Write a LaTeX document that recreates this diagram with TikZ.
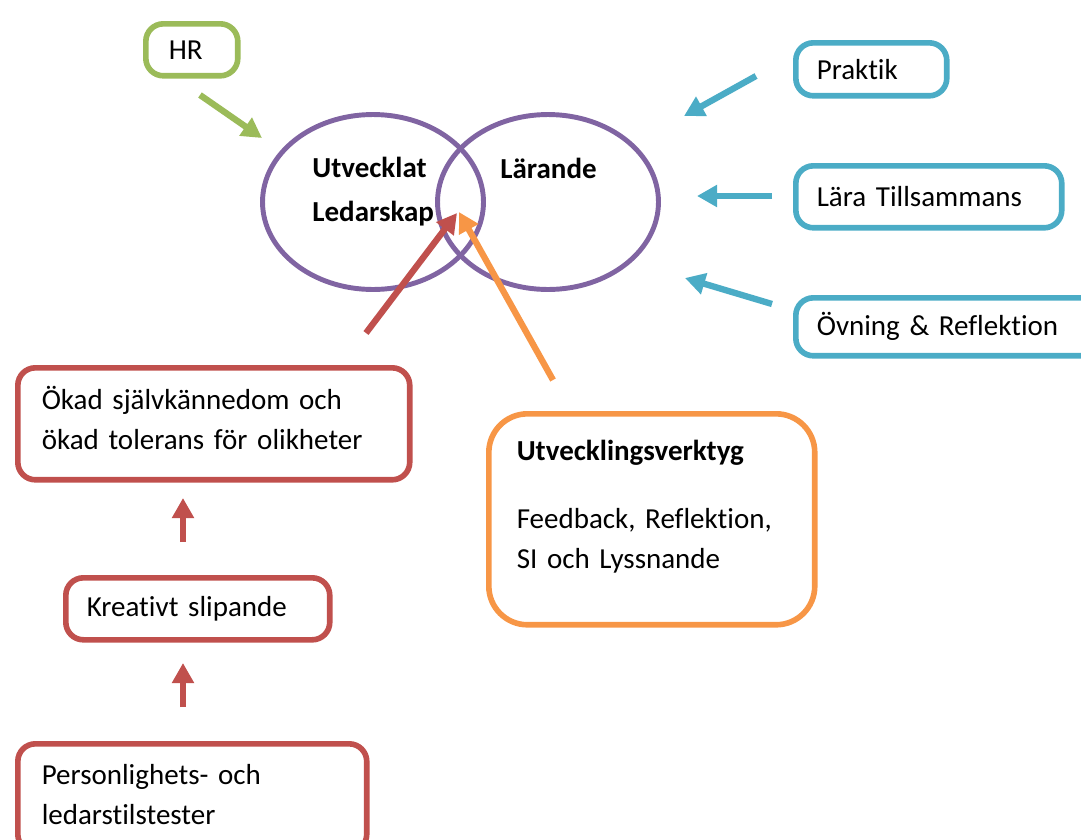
\documentclass[tikz,border=0pt]{standalone}
\usepackage{xcolor}
\usepackage{fontspec}
\setmainfont{Carlito}[Ligatures=NoCommon]
\usetikzlibrary{arrows.meta,shapes.geometric}
\definecolor{hrgreen}{HTML}{9BBB59}
\definecolor{tealblue}{HTML}{4BACC6}
\definecolor{circpurple}{HTML}{8064A2}
\definecolor{brickred}{HTML}{C0504D}
\definecolor{tanorange}{HTML}{F79646}
% extra space under the text of a box, lifts the text
\newcommand{\liftby}[1]{\par\vspace{#1}\hrule height 0pt}

\tikzset{
  box/.style={draw, line width=3.2pt, rounded corners=10pt, anchor=north west,
              align=left, inner xsep=0.42cm, inner ysep=0pt,
              font=\fontsize{16.5}{22.9}\selectfont},
  circ/.style={ellipse, draw=circpurple, line width=2.8pt,
               minimum width=4.42cm, minimum height=3.5cm},
  arr/.style={line width=3.6pt, -{Triangle[length=0.4cm,width=0.42cm]}},
}

\begin{document}
\begin{tikzpicture}[x=0.02cm, y=-0.02cm]
        \useasboundingbox (0,0) rectangle (1081,839);
        \clip (0,0) rectangle (1081,839);

        % the two overlapping circles
        \node[circ] (led) at (373,202) {};
        \node[circ] (lar) at (548,202) {};
        \node[anchor=west, inner sep=0pt, align=left,
              font=\fontsize{16.5}{25}\selectfont\bfseries] (ledtext) at (312,192) {Utvecklat\\Ledarskap};
        \node[anchor=west, inner sep=0pt,
              font=\fontsize{16.5}{25}\selectfont\bfseries] (lartext) at (500,168) {Lärande};

        % boxes
        \node[box, draw=hrgreen, inner xsep=0.46cm, text width=0.92cm, minimum height=1.04cm] (hr) at (143,21) {HR};
        \node[box, draw=tealblue, text width=2.18cm, minimum height=1.06cm] (praktik) at (793,40) {Praktik};
        \node[box, draw=tealblue, text width=4.48cm, minimum height=1.24cm] (tillsammans) at (793,163) {Lära Tillsammans};
        \node[box, draw=tealblue, text width=5.56cm, minimum height=1.16cm] (ovning) at (793,295) {Övning \& Reflektion};
        \node[box, draw=brickred, inner xsep=0.48cm, text width=6.88cm, minimum height=2.24cm] (okad) at (15,365)
            {Ökad självkännedom och\\ökad tolerans för olikheter\liftby{0.24cm}};
        \node[box, draw=brickred, text width=4.44cm, minimum height=1.24cm] (kreativt) at (63,575) {Kreativt slipande};
        \node[box, draw=brickred, inner xsep=0.48cm, text width=6.02cm, minimum height=2.16cm] (tester) at (15,741)
            {Personlighets- och\\ledarstilstester\liftby{0.12cm}};
        \node[box, draw=tanorange, rounded corners=22pt, inner xsep=0.56cm, text width=5.4cm, minimum height=4.22cm] (verktyg) at (486,411)
            {\textbf{Utvecklingsverktyg}\\[16pt]Feedback, Reflektion,\\SI och Lyssnande\liftby{0.5cm}};

        % arrow ends
        \coordinate (hr-start) at (200,95);
        \coordinate (hr-end) at (262,138);
        \coordinate (praktik-start) at (756,76);
        \coordinate (praktik-end) at (684,116);
        \coordinate (tillsammans-start) at (772,196);
        \coordinate (tillsammans-end) at (697,196);
        \coordinate (ovning-start) at (772,304);
        \coordinate (ovning-end) at (685,278);
        \coordinate (okad-start) at (366,333);
        \coordinate (okad-end) at (457,213);
        \coordinate (verktyg-start) at (553,380);
        \coordinate (verktyg-end) at (459,212);
        \coordinate (kreativt-start) at (183,542);
        \coordinate (kreativt-end) at (183,498);
        \coordinate (tester-start) at (183,707);
        \coordinate (tester-end) at (183,663);

        % arrows
        \draw[arr, hrgreen] (hr-start) -- (hr-end);
        \draw[arr, tealblue] (praktik-start) -- (praktik-end);
        \draw[arr, tealblue] (tillsammans-start) -- (tillsammans-end);
        \draw[arr, tealblue] (ovning-start) -- (ovning-end);
        \draw[arr, brickred] (okad-start) -- (okad-end);
        \draw[arr, tanorange] (verktyg-start) -- (verktyg-end);
        \draw[arr, brickred] (kreativt-start) -- (kreativt-end);
        \draw[arr, brickred] (tester-start) -- (tester-end);
    \end{tikzpicture}
\end{document}
